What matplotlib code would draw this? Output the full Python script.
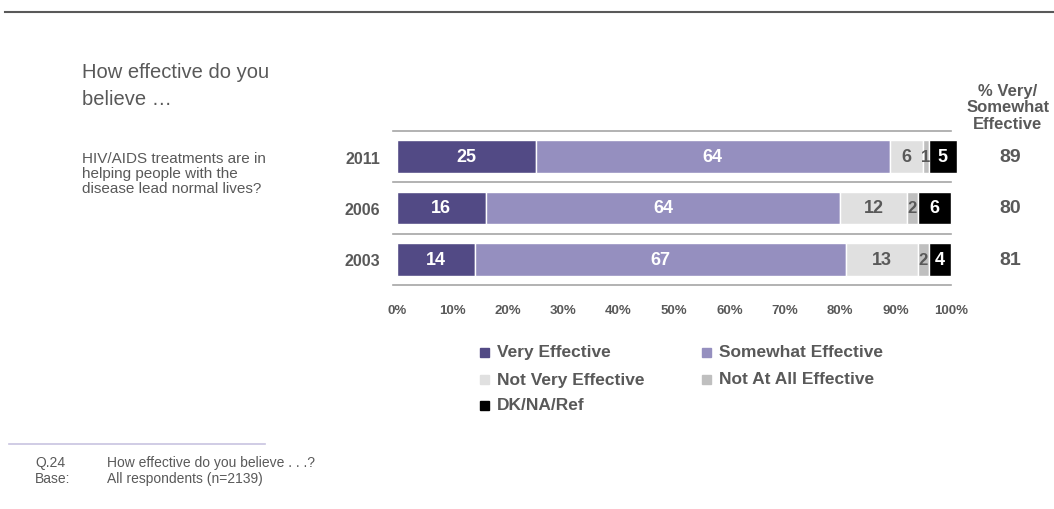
import numpy as np
import matplotlib.pyplot as plt

plt.rcParams['font.family'] = ['Liberation Sans', 'DejaVu Sans']

years = ['2011', '2006', '2003']
very = [25, 16, 14]
somewhat = [64, 64, 67]
not_very = [6, 12, 13]
not_at_all = [1, 2, 2]
dk = [5, 6, 4]
net = [89, 80, 81]

series = [very, somewhat, not_very, not_at_all, dk]
names = ['Very Effective', 'Somewhat Effective', 'Not Very Effective',
         'Not At All Effective', 'DK/NA/Ref']
colors = ['#524a85', '#958fbf', '#e0e0e0', '#bfbfbf', '#000000']
txtcol = ['white', 'white', '#595959', '#595959', 'white']
grey = '#595959'

fig = plt.figure(figsize=(10.54, 5.10), dpi=100)
ax = fig.add_axes([397/1054, 1-286/510, 554/1054, 154/510])

y = np.arange(len(years))
left = np.zeros(len(years))
for vals, c, tc in zip(series, colors, txtcol):
    vals = np.array(vals, dtype=float)
    ax.barh(y, vals, left=left, height=0.64, color=c, edgecolor='white',
            linewidth=1, clip_on=False)
    for yi, l, v in zip(y, left, vals):
        fs = 13 if v >= 3 else 12
        ax.text(l + v/2, yi, '%d' % v, ha='center', va='center', color=tc,
                fontsize=fs, fontweight='bold')
    left += vals

for yl in [-0.5, 0.5, 1.5, 2.5]:
    ax.plot([-0.7, 100], [yl, yl], color='#a6a6a6', lw=1.2, clip_on=False)

ax.set_xlim(0, 100)
ax.set_ylim(2.5, -0.5)
ax.set_xticks(range(0, 101, 10))
ax.set_xticklabels(['%d%%' % t for t in range(0, 101, 10)], fontsize=9.5,
                   fontweight='bold', color=grey)
ax.set_yticks(y)
ax.set_yticklabels(years, fontsize=11.5, fontweight='bold', color=grey)
ax.tick_params(length=0, pad=12)
ax.tick_params(axis='x', pad=14)
for s in ax.spines.values():
    s.set_visible(False)

for yi, n in zip(y, net):
    ax.text((1010-397)/554, yi, str(n), transform=ax.get_yaxis_transform(),
            ha='center', va='center', fontsize=14, fontweight='bold', color=grey)

fig.text(1008/1054, 1-108/510, '% Very/\nSomewhat\nEffective', ha='center',
         va='center', fontsize=12, fontweight='bold', color=grey,
         linespacing=1.15)

fig.text(82/1054, 1-86/510, 'How effective do you\nbelieve \u2026', ha='left',
         va='center', fontsize=14.5, color=grey, linespacing=1.55)
fig.text(82/1054, 1-174/510,
         'HIV/AIDS treatments are in\nhelping people with the\ndisease lead normal lives?',
         ha='left', va='center', fontsize=11, color=grey, linespacing=1.05)

# legend
leg_pos = [(484, 353), (706, 353), (484, 380), (706, 380), (484, 406)]
for (lx, ly), nm, c in zip(leg_pos, names, colors):
    fig.patches.append(plt.Rectangle(((lx-4.5)/1054, 1-(ly+4.5)/510), 9/1054, 9/510,
                                     transform=fig.transFigure, color=c))
    fig.text((lx+13)/1054, 1-ly/510, nm, ha='left', va='center', fontsize=12.5,
             fontweight='bold', color=grey)

# rules
fig.add_artist(plt.Line2D([5/1054, 1], [1-13/510, 1-13/510], color='#595959', lw=1.5))
fig.add_artist(plt.Line2D([9/1054, 265/1054], [1-445/510, 1-445/510],
                          color='#c8c4e0', lw=1.2))

fig.text(35/1054, 1-463/510, 'Q.24', fontsize=10, color=grey, va='center')
fig.text(35/1054, 1-479/510, 'Base:', fontsize=10, color=grey, va='center')
fig.text(107/1054, 1-463/510, 'How effective do you believe . . .?', fontsize=10,
         color=grey, va='center')
fig.text(107/1054, 1-479/510, 'All respondents (n=2139)', fontsize=10,
         color=grey, va='center')

fig.savefig('out.png', dpi=100)
